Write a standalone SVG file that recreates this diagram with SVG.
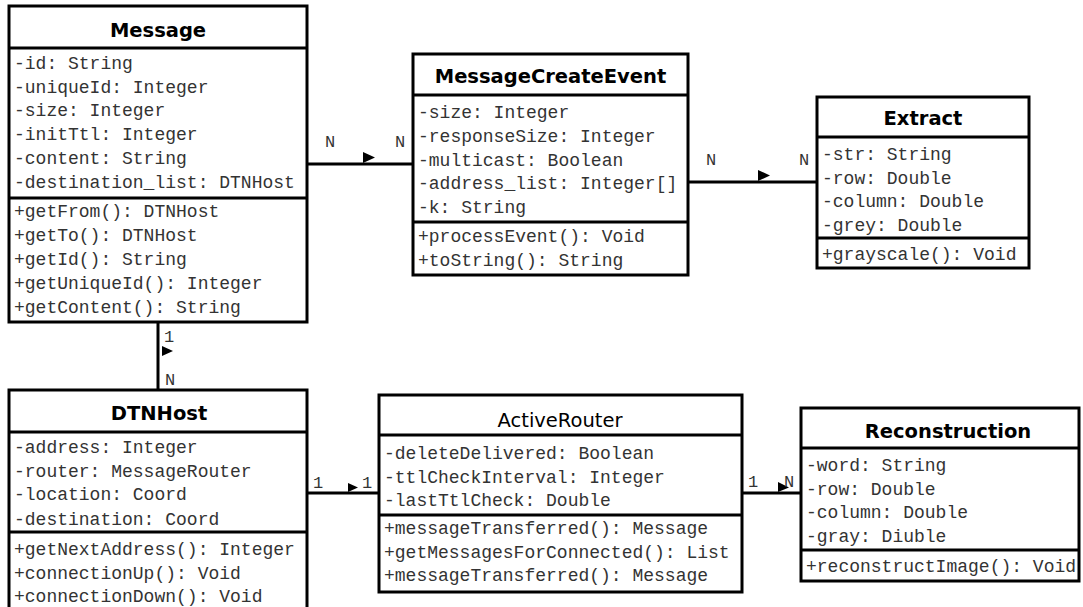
<svg xmlns="http://www.w3.org/2000/svg" width="1083" height="607" viewBox="0 0 1083 607">
<style>
.box{fill:#fff;stroke:#000;stroke-width:3}
.sep{stroke:#000;stroke-width:3}
.t{font-family:"DejaVu Sans",Verdana,sans-serif;font-size:19.5px;fill:#000;text-anchor:middle}
.b{font-weight:bold}
.m{font-family:"Liberation Mono","Courier New",monospace;font-size:18px;fill:#333}
.conn{stroke:#000;stroke-width:3;fill:none}
.ah{fill:#000}
.lbl{font-family:"Liberation Mono","Courier New",monospace;font-size:17px;fill:#333;text-anchor:middle}
</style>
<g id="connectors">
<line class="conn" x1="307" y1="164" x2="413" y2="164"/>
<polygon class="ah" points="363,152 375,157.5 363,163"/>
<text class="lbl" x="330" y="147">N</text>
<text class="lbl" x="400" y="147">N</text>
<line class="conn" x1="688" y1="182" x2="817" y2="182"/>
<polygon class="ah" points="758,170 770,175.5 758,181"/>
<text class="lbl" x="711" y="165">N</text>
<text class="lbl" x="804" y="165">N</text>
<line class="conn" x1="158" y1="322" x2="158" y2="390"/>
<polygon class="ah" points="162,346 173,351 162,356"/>
<text class="lbl" x="169" y="342">1</text>
<text class="lbl" x="170" y="385">N</text>
<line class="conn" x1="307" y1="493" x2="379" y2="493"/>
<polygon class="ah" points="348,483 358,487.5 348,492"/>
<text class="lbl" x="318" y="488">1</text>
<text class="lbl" x="367" y="488">1</text>
<line class="conn" x1="742" y1="493" x2="801" y2="493"/>
<polygon class="ah" points="778,482 789,487.5 778,492"/>
<text class="lbl" x="753" y="487">1</text>
<text class="lbl" x="789" y="487">N</text>
</g>
<g id="Message">
<rect class="box" x="9" y="6" width="298" height="316"/>
<line class="sep" x1="9" y1="48" x2="307" y2="48"/>
<line class="sep" x1="9" y1="198" x2="307" y2="198"/>
<text class="t b" x="158" y="37">Message</text>
<text class="m" x="14" y="69">-id: String</text>
<text class="m" x="14" y="92.7">-uniqueId: Integer</text>
<text class="m" x="14" y="116.4">-size: Integer</text>
<text class="m" x="14" y="140.1">-initTtl: Integer</text>
<text class="m" x="14" y="163.8">-content: String</text>
<text class="m" x="14" y="187.5">-destination_list: DTNHost</text>
<text class="m" x="14" y="217">+getFrom(): DTNHost</text>
<text class="m" x="14" y="241">+getTo(): DTNHost</text>
<text class="m" x="14" y="265">+getId(): String</text>
<text class="m" x="14" y="289">+getUniqueId(): Integer</text>
<text class="m" x="14" y="313">+getContent(): String</text>
</g>
<g id="MessageCreateEvent">
<rect class="box" x="413" y="54" width="275" height="221"/>
<line class="sep" x1="413" y1="95" x2="688" y2="95"/>
<line class="sep" x1="413" y1="222" x2="688" y2="222"/>
<text class="t b" x="550.5" y="83">MessageCreateEvent</text>
<text class="m" x="418" y="118">-size: Integer</text>
<text class="m" x="418" y="142">-responseSize: Integer</text>
<text class="m" x="418" y="166">-multicast: Boolean</text>
<text class="m" x="418" y="189">-address_list: Integer[]</text>
<text class="m" x="418" y="213">-k: String</text>
<text class="m" x="418" y="242">+processEvent(): Void</text>
<text class="m" x="418" y="266">+toString(): String</text>
</g>
<g id="Extract">
<rect class="box" x="817" y="97" width="212" height="171"/>
<line class="sep" x1="817" y1="137" x2="1029" y2="137"/>
<line class="sep" x1="817" y1="238" x2="1029" y2="238"/>
<text class="t b" x="923" y="125">Extract</text>
<text class="m" x="822" y="160">-str: String</text>
<text class="m" x="822" y="184">-row: Double</text>
<text class="m" x="822" y="207">-column: Double</text>
<text class="m" x="822" y="231">-grey: Double</text>
<text class="m" x="822" y="260">+grayscale(): Void</text>
</g>
<g id="DTNHost">
<rect class="box" x="9" y="390" width="298" height="225"/>
<line class="sep" x1="9" y1="432" x2="307" y2="432"/>
<line class="sep" x1="9" y1="532" x2="307" y2="532"/>
<text class="t b" x="159" y="420">DTNHost</text>
<text class="m" x="14" y="453">-address: Integer</text>
<text class="m" x="14" y="477">-router: MessageRouter</text>
<text class="m" x="14" y="500">-location: Coord</text>
<text class="m" x="14" y="525">-destination: Coord</text>
<text class="m" x="14" y="555">+getNextAddress(): Integer</text>
<text class="m" x="14" y="579">+connectionUp(): Void</text>
<text class="m" x="14" y="602">+connectionDown(): Void</text>
</g>
<g id="ActiveRouter">
<rect class="box" x="379" y="395" width="363" height="197"/>
<line class="sep" x1="379" y1="435" x2="742" y2="435"/>
<line class="sep" x1="379" y1="515" x2="742" y2="515"/>
<text class="t" x="560" y="427">ActiveRouter</text>
<text class="m" x="384" y="459">-deleteDelivered: Boolean</text>
<text class="m" x="384" y="483">-ttlCheckInterval: Integer</text>
<text class="m" x="384" y="506">-lastTtlCheck: Double</text>
<text class="m" x="384" y="534">+messageTransferred(): Message</text>
<text class="m" x="384" y="558">+getMessagesForConnected(): List</text>
<text class="m" x="384" y="581">+messageTransferred(): Message</text>
</g>
<g id="Reconstruction">
<rect class="box" x="801" y="408" width="278" height="173"/>
<line class="sep" x1="801" y1="448" x2="1079" y2="448"/>
<line class="sep" x1="801" y1="550" x2="1079" y2="550"/>
<text class="t b" x="948" y="438">Reconstruction</text>
<text class="m" x="806" y="471">-word: String</text>
<text class="m" x="806" y="495">-row: Double</text>
<text class="m" x="806" y="518">-column: Double</text>
<text class="m" x="806" y="542">-gray: Diuble</text>
<text class="m" x="806" y="572">+reconstructImage(): Void</text>
</g>
</svg>
